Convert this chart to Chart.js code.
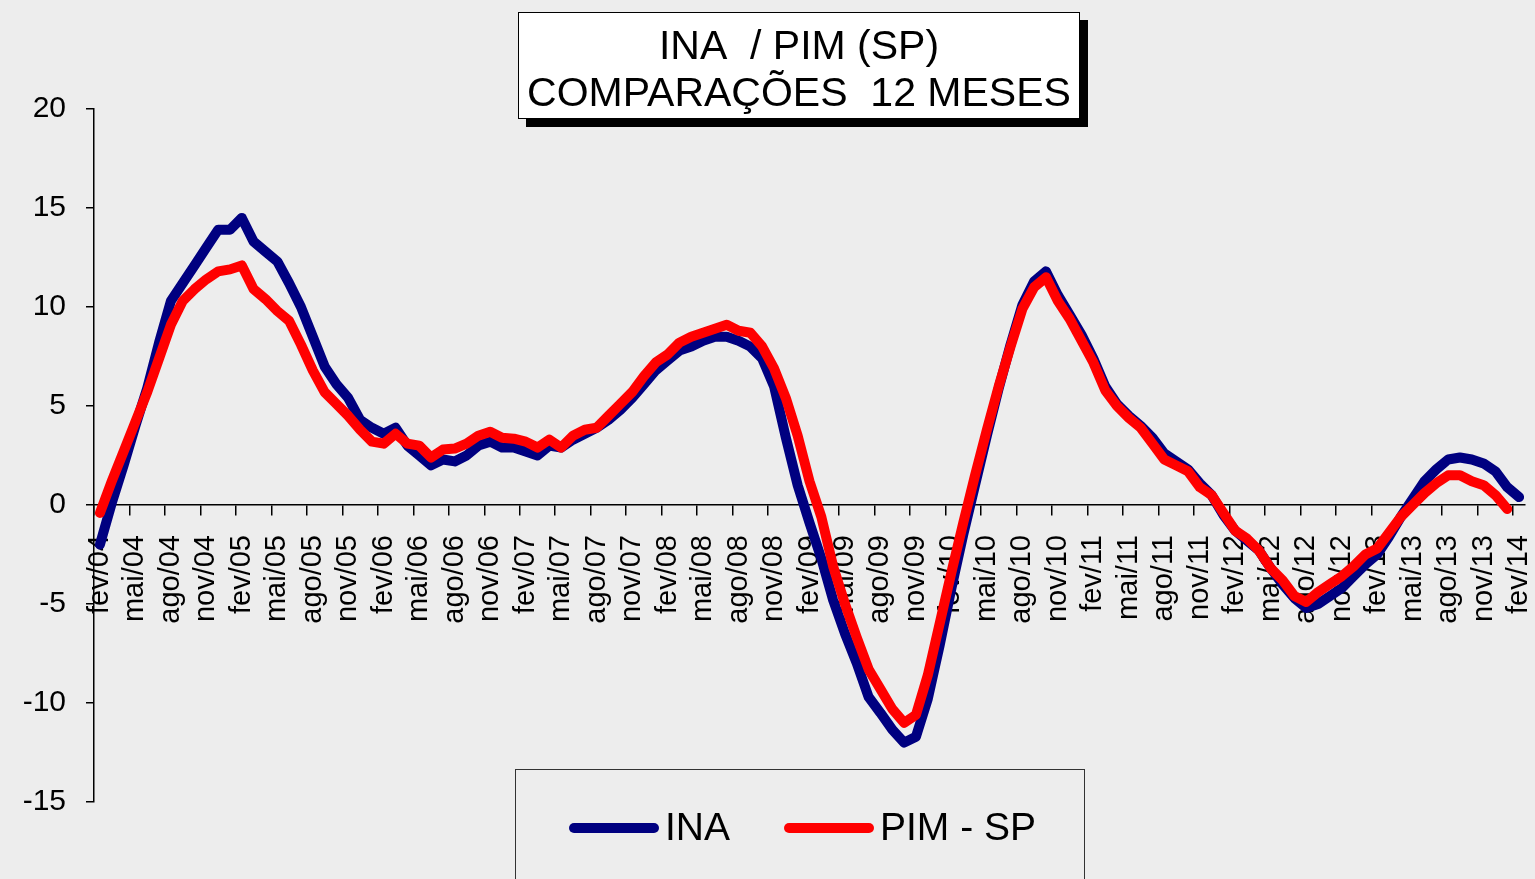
<!DOCTYPE html>
<html>
<head>
<meta charset="utf-8">
<script src="https://cdn.jsdelivr.net/npm/chart.js@4.4.1/dist/chart.umd.min.js"></script>
<style>
  body { margin: 0; overflow: hidden; background: #ededed; font-family: "Liberation Sans", Arial, sans-serif; }
  #wrap { position: relative; width: 1535px; height: 879px; }
  #chart { position: absolute; left: 0; top: 0; }
  .title-box {
    position: absolute; left: 518px; top: 12px; width: 562px; height: 107px;
    background: #fff; border: 1.5px solid #000; box-shadow: 8px 8px 0 #000;
    text-align: center; font-size: 41px; line-height: 47px; color: #000;
    padding-top: 9px; box-sizing: border-box;
  }
  .legend-box {
    position: absolute; left: 515px; top: 769px; width: 570px; height: 130px;
    border: 1.5px solid #333; box-sizing: border-box;
  }
  .legend-item { position: absolute; top: 37px; font-size: 39px; line-height: 40px; color: #000; }
  .legend-item span.sw {
    display: inline-block; width: 90px; height: 10px; border-radius: 5px;
    vertical-align: middle; margin-right: 6px; position: relative; top: -2px;
  }
</style>
</head>
<body>
<div id="wrap">
  <canvas id="chart" width="1535" height="879"></canvas>
  <div class="title-box">INA&nbsp; / PIM (SP)<br>COMPARAÇÕES&nbsp; 12 MESES</div>
  <div class="legend-box">
    <div class="legend-item" style="left:53px"><span class="sw" style="background:#000080"></span>INA</div>
    <div class="legend-item" style="left:268px"><span class="sw" style="background:#ff0000"></span>PIM - SP</div>
  </div>
</div>
<script>
const monthNames = ['jan', 'fev', 'mar', 'abr', 'mai', 'jun', 'jul', 'ago', 'set', 'out', 'nov', 'dez'];
const firstYear = 2004;
const firstMonth = 1; // fev

// monthly categories, fev/04 .. fev/14
const months = [];
for (let k = 0; k < 121; k++) {
  const m = (firstMonth + k) % 12;
  const y = firstYear + Math.floor((firstMonth + k) / 12);
  months.push(monthNames[m] + '/' + String(y % 100).padStart(2, '0'));
}

const yTicks = [20, 15, 10, 5, 0, -5, -10, -15];

// INA, % 12 months
const inaValues = [
  -2.0, 0.1, 2.0, 4.0, 5.9, 8.2, 10.3, 11.2, 12.1, 13.0, 13.9, 13.9,
  14.5, 13.3, 12.8, 12.3, 11.2, 10.0, 8.5, 7.0, 6.1, 5.4, 4.3, 3.9,
  3.6, 3.9, 3.0, 2.5, 2.0, 2.3, 2.2, 2.5, 3.0, 3.2, 2.9, 2.9,
  2.7, 2.5, 3.0, 2.9, 3.3, 3.6, 3.9, 4.3, 4.8, 5.4, 6.1, 6.8,
  7.3, 7.8, 8.0, 8.3, 8.5, 8.5, 8.3, 8.0, 7.4, 6.0, 3.4, 1.0,
  -0.9, -2.7, -4.8, -6.5, -8.0, -9.7, -10.5, -11.35, -12.0, -11.7, -9.8, -7.1,
  -4.2, -1.5, 1.0, 3.5, 5.9, 8.1, 10.1, 11.3, 11.8, 10.6, 9.6, 8.6,
  7.4, 6.0, 5.1, 4.5, 4.0, 3.4, 2.6, 2.2, 1.8, 1.1, 0.5, -0.5,
  -1.3, -1.8, -2.3, -3.2, -4.0, -4.7, -5.2, -5.0, -4.6, -4.2, -3.6, -3.0,
  -2.5, -1.6, -0.6, 0.3, 1.2, 1.8, 2.3, 2.4, 2.3, 2.1, 1.7, 0.9,
  0.4
];

// PIM - SP, % 12 months (no value yet for fev/14)
const pimValues = [
  -0.4, 1.2, 2.7, 4.2, 5.7, 7.4, 9.1, 10.3, 10.9, 11.4, 11.8, 11.9,
  12.1, 10.9, 10.4, 9.8, 9.3, 8.1, 6.8, 5.7, 5.1, 4.5, 3.8, 3.2,
  3.1, 3.6, 3.1, 3.0, 2.4, 2.8, 2.85, 3.1, 3.5, 3.7, 3.4, 3.35,
  3.2, 2.9, 3.3, 2.9, 3.5, 3.8, 3.9, 4.5, 5.1, 5.7, 6.5, 7.2,
  7.6, 8.2, 8.5, 8.7, 8.9, 9.1, 8.8, 8.7, 8.0, 6.9, 5.4, 3.5,
  1.2, -0.6, -3.1, -5.0, -6.7, -8.3, -9.3, -10.3, -11.0, -10.6, -8.6, -6.0,
  -3.4, -0.9, 1.5, 3.8, 6.0, 8.0, 9.9, 11.0, 11.5, 10.3, 9.4, 8.3,
  7.2, 5.8, 5.0, 4.4, 3.9, 3.1, 2.3, 2.0, 1.7, 0.9, 0.5, -0.4,
  -1.3, -1.7, -2.3, -3.2, -3.8, -4.6, -4.9, -4.4, -4.0, -3.6, -3.1, -2.5,
  -2.2, -1.4, -0.6, 0.0, 0.6, 1.1, 1.5, 1.5, 1.2, 1.0, 0.5, -0.2,
  null
];

const tickFont = { family: '"Liberation Sans", Arial, sans-serif', size: 30 };

new Chart(document.getElementById('chart'), {
  type: 'line',
  data: {
    labels: months,
    datasets: [
      {
        label: 'INA',
        data: inaValues,
        borderColor: '#000080',
        borderWidth: 10,
        order: 2
      },
      {
        label: 'PIM - SP',
        data: pimValues,
        borderColor: '#ff0000',
        borderWidth: 10,
        order: 1
      }
    ]
  },
  options: {
    responsive: false,
    animation: false,
    events: [],
    layout: { padding: { left: 0, top: 109, right: 10, bottom: 77 } },
    elements: {
      point: { radius: 0 },
      line: { tension: 0, borderCapStyle: 'round', borderJoinStyle: 'round' }
    },
    plugins: {
      legend: { display: false },
      tooltip: { enabled: false }
    },
    scales: {
      x: {
        type: 'category',
        offset: true,
        position: { y: 0 },
        afterFit: scale => { scale.paddingLeft = 0; scale.paddingRight = 0; },
        border: { display: true, color: '#000', width: 1.5 },
        grid: {
          offset: true,
          drawOnChartArea: false,
          drawTicks: true,
          tickLength: 10,
          lineWidth: 1.5,
          color: ctx => (ctx.index % 3 === 0 ? '#000' : 'rgba(0,0,0,0)')
        },
        ticks: {
          autoSkip: false,
          minRotation: 90,
          maxRotation: 90,
          padding: 20,
          color: '#000',
          font: { family: tickFont.family, size: 29 },
          callback: (value, index) => (index % 3 === 0 ? months[index] : '')
        }
      },
      y: {
        min: -15,
        max: 20,
        afterFit: scale => { scale.width = 94; },
        afterBuildTicks: scale => { scale.ticks = yTicks.map(v => ({ value: v })); },
        border: { display: true, color: '#000', width: 1.5 },
        grid: { drawOnChartArea: false, drawTicks: true, tickLength: 8, color: '#000', lineWidth: 1.5 },
        ticks: { color: '#000', font: tickFont, padding: 20 }
      }
    }
  }
});
</script>
</body>
</html>
